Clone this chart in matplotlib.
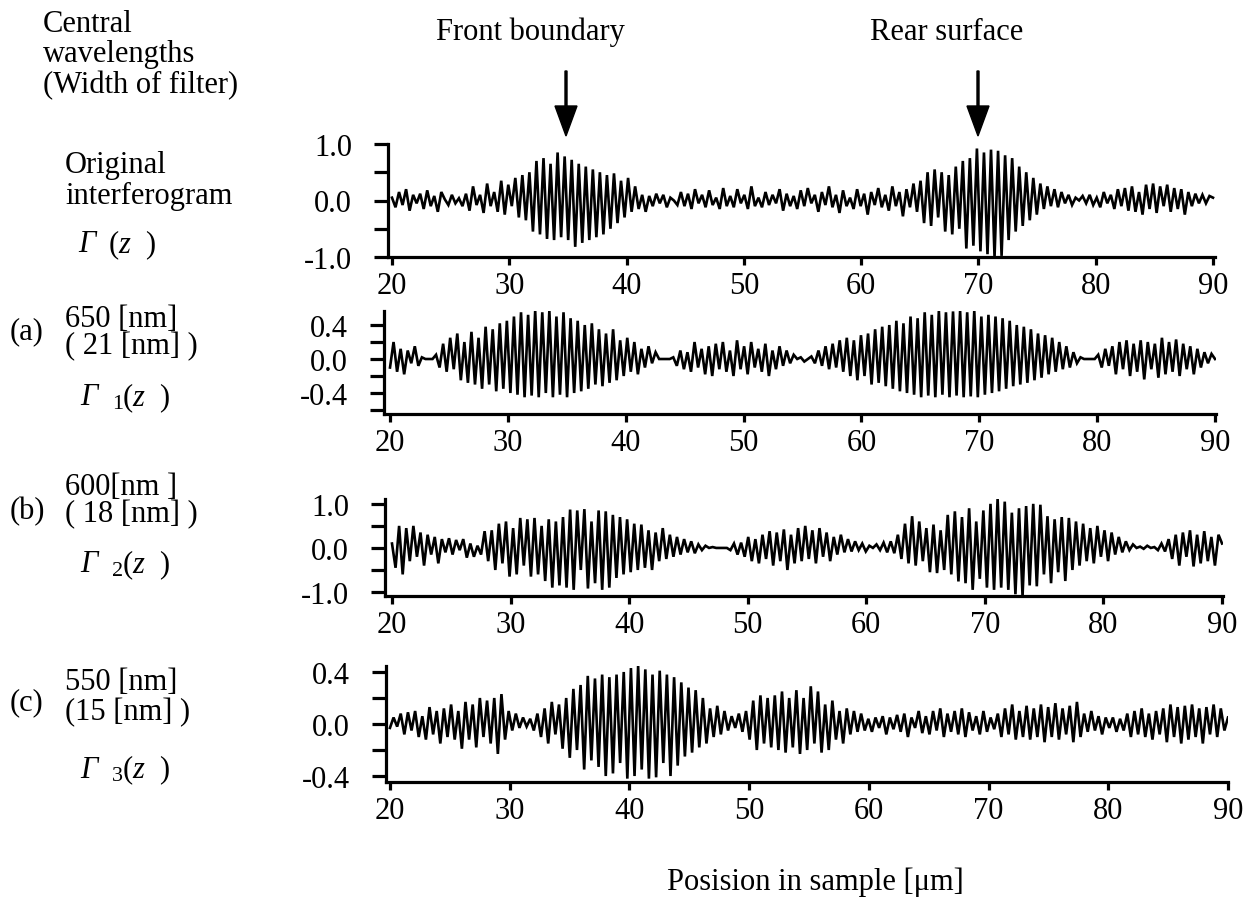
import numpy as np
import matplotlib
matplotlib.use("Agg")
import matplotlib.pyplot as plt

plt.rcParams["font.family"] = ["Liberation Serif", "DejaVu Serif"]
plt.rcParams["mathtext.fontset"] = "custom"
plt.rcParams["mathtext.rm"] = "Liberation Serif"
plt.rcParams["mathtext.it"] = "Liberation Serif:italic"

W, H = 1260, 904
FS = 22

x_ticks = [20, 30, 40, 50, 60, 70, 80, 90]

# original interferogram, sampled every ~0.3 um from 20 to 90 um
gamma0 = [
    0.05, -0.12, 0.15, -0.08, 0.2, -0.18, 0.1, -0.05, 0.12, -0.15,
    0.18, -0.1, 0.08, -0.2, 0.15, 0.02, -0.08, 0.1, -0.05, 0.04,
    -0.1, 0.12, -0.18, 0.25, -0.08, 0.1, -0.22, 0.3, -0.1, 0.15,
    -0.2, 0.35, -0.25, 0.28, -0.1, 0.4, -0.3, 0.45, -0.35, 0.5,
    -0.55, 0.7, -0.6, 0.75, -0.68, 0.65, -0.7, 0.85, -0.65, 0.78,
    -0.7, 0.72, -0.82, 0.65, -0.75, 0.6, -0.7, 0.55, -0.65, 0.5,
    -0.6, 0.45, -0.5, 0.48, -0.4, 0.35, -0.3, 0.4, -0.2, 0.25,
    -0.15, 0.1, -0.2, 0.08, -0.1, 0.12, -0.05, 0.1, -0.12, 0.05,
    0.0, -0.08, 0.15, -0.1, 0.12, -0.15, 0.2, -0.05, 0.1, -0.12,
    0.18, -0.08, 0.05, -0.15, 0.22, -0.1, 0.08, -0.12, 0.2, -0.05,
    0.1, -0.15, 0.25, -0.1, 0.05, -0.12, 0.15, -0.08, 0.1, -0.05,
    0.2, -0.18, 0.12, -0.1, 0.08, -0.15, 0.18, -0.1, 0.22, -0.05,
    0.1, -0.2, 0.15, -0.08, 0.25, -0.12, 0.1, -0.22, 0.18, -0.1,
    0.05, -0.15, 0.2, -0.1, 0.12, -0.25, 0.15, -0.08, 0.22, -0.12,
    0.1, -0.18, 0.25, -0.1, 0.15, -0.28, 0.2, -0.12, 0.3, -0.2,
    0.35, -0.4, 0.5, -0.45, 0.55, -0.3, 0.5, -0.55, 0.45, -0.6,
    0.6, -0.5, 0.7, -0.85, 0.75, -0.8, 0.92, -0.9, 0.85, -0.95,
    0.9, -1.0, 0.88, -0.98, 0.8, -0.7, 0.75, -0.55, 0.6, -0.45,
    0.5, -0.35, 0.4, -0.25, 0.3, -0.15, 0.25, -0.1, 0.2, -0.12,
    0.15, -0.05, 0.1, -0.08, 0.05, 0.0, 0.08, -0.05, 0.1, -0.08,
    0.05, -0.12, 0.15, -0.05, 0.1, -0.15, 0.2, -0.1, 0.22, -0.18,
    0.25, -0.2, 0.15, -0.25, 0.28, -0.15, 0.3, -0.22, 0.25, -0.1,
    0.28, -0.2, 0.22, -0.15, 0.2, -0.25, 0.15, -0.1, 0.12, -0.05,
    0.1, -0.05, 0.08, 0.05,
]

# (a) 650 nm filter
gamma1 = [
    -0.1, 0.2, -0.15, 0.12, -0.18, 0.1, -0.05, 0.15, -0.08, 0.02,
    0.0, 0.0, 0.0, 0.05, -0.1, 0.18, -0.15, 0.25, -0.12, 0.3,
    -0.25, 0.2, -0.28, 0.32, -0.3, 0.25, -0.35, 0.38, -0.3, 0.35,
    -0.38, 0.42, -0.35, 0.45, -0.4, 0.5, -0.42, 0.55, -0.45, 0.52,
    -0.43, 0.57, -0.45, 0.55, -0.4, 0.57, -0.45, 0.5, -0.42, 0.55,
    -0.45, 0.48, -0.4, 0.45, -0.38, 0.4, -0.35, 0.42, -0.3, 0.35,
    -0.32, 0.3, -0.28, 0.35, -0.25, 0.22, -0.2, 0.25, -0.15, 0.2,
    -0.18, 0.12, -0.1, 0.15, -0.05, 0.08, 0.0, 0.0, 0.0, 0.0,
    0.02, -0.08, 0.1, -0.12, 0.08, -0.15, 0.2, -0.1, 0.12, -0.18,
    0.15, -0.2, 0.18, -0.12, 0.2, -0.15, 0.1, -0.2, 0.22, -0.12,
    0.15, -0.18, 0.2, -0.1, 0.12, -0.15, 0.18, -0.2, 0.1, -0.12,
    0.15, -0.08, 0.1, -0.05, 0.05, 0.0, 0.02, -0.03, 0.0, 0.03,
    -0.05, 0.1, -0.08, 0.15, -0.12, 0.18, -0.1, 0.22, -0.15, 0.25,
    -0.2, 0.22, -0.25, 0.28, -0.2, 0.3, -0.3, 0.35, -0.28, 0.38,
    -0.32, 0.4, -0.35, 0.45, -0.38, 0.42, -0.4, 0.5, -0.42, 0.48,
    -0.45, 0.55, -0.43, 0.52, -0.45, 0.57, -0.42, 0.55, -0.45, 0.56,
    -0.43, 0.57, -0.45, 0.55, -0.44, 0.57, -0.45, 0.5, -0.42, 0.52,
    -0.4, 0.5, -0.38, 0.48, -0.35, 0.45, -0.32, 0.4, -0.3, 0.38,
    -0.28, 0.35, -0.25, 0.3, -0.22, 0.28, -0.18, 0.25, -0.15, 0.2,
    -0.12, 0.15, -0.1, 0.08, -0.05, 0.02, 0.0, 0.0, 0.0, 0.0,
    0.05, -0.1, 0.12, -0.08, 0.15, -0.18, 0.2, -0.12, 0.22, -0.2,
    0.18, -0.15, 0.22, -0.24, 0.2, -0.12, 0.18, -0.22, 0.25, -0.18,
    0.2, -0.15, 0.23, -0.2, 0.18, -0.12, 0.15, -0.18, 0.12, -0.1,
    0.08, -0.05, 0.06, 0.0,
]

# (b) 600 nm filter
gamma2 = [
    0.1, -0.45, 0.5, -0.6, 0.45, -0.3, 0.5, -0.2, 0.35, -0.4,
    0.3, -0.15, 0.25, -0.35, 0.2, -0.1, 0.22, -0.15, 0.18, -0.05,
    0.2, -0.22, 0.1, -0.2, 0.05, -0.15, 0.38, -0.3, 0.4, -0.5,
    0.55, -0.35, 0.6, -0.65, 0.45, -0.6, 0.68, -0.4, 0.65, -0.65,
    0.68, -0.6, 0.5, -0.75, 0.65, -0.9, 0.6, -0.85, 0.7, -0.9,
    0.87, -0.95, 0.85, -0.5, 0.88, -0.92, 0.6, -0.8, 0.85, -0.95,
    0.83, -0.9, 0.75, -0.68, 0.7, -0.6, 0.65, -0.55, 0.55, -0.5,
    0.53, -0.45, 0.4, -0.5, 0.35, -0.3, 0.45, -0.25, 0.3, -0.2,
    0.25, -0.15, 0.2, -0.1, 0.15, -0.12, 0.08, -0.05, 0.05, 0.0,
    0.02, 0.0, 0.0, 0.0, 0.0, -0.05, 0.1, -0.15, 0.12, -0.2,
    0.25, -0.3, 0.2, -0.35, 0.3, -0.25, 0.38, -0.4, 0.35, -0.3,
    0.42, -0.5, 0.3, -0.35, 0.45, -0.3, 0.5, -0.25, 0.4, -0.35,
    0.45, -0.2, 0.35, -0.3, 0.25, -0.15, 0.3, -0.1, 0.2, -0.08,
    0.15, -0.05, 0.1, -0.08, 0.05, 0.0, 0.08, -0.05, 0.12, -0.1,
    0.15, -0.12, 0.3, -0.25, 0.55, -0.35, 0.72, -0.4, 0.6, -0.3,
    0.45, -0.55, 0.53, -0.57, 0.4, -0.5, 0.75, -0.6, 0.83, -0.76,
    0.7, -0.8, 0.9, -0.95, 0.6, -0.7, 0.85, -0.9, 1.0, -0.95,
    1.12, -0.9, 1.05, -0.95, 0.8, -1.05, 0.9, -1.1, 0.95, -0.85,
    1.0, -0.87, 0.98, -0.6, 0.72, -0.8, 0.65, -0.55, 0.7, -0.75,
    0.68, -0.5, 0.6, -0.4, 0.55, -0.3, 0.45, -0.35, 0.5, -0.2,
    0.4, -0.3, 0.35, -0.15, 0.25, -0.1, 0.15, -0.05, 0.08, 0.0,
    0.03, -0.02, 0.05, 0.0, 0.02, -0.05, 0.1, -0.08, 0.2, -0.25,
    0.3, -0.4, 0.35, -0.2, 0.4, -0.42, 0.3, -0.35, 0.38, -0.3,
    0.25, -0.4, 0.3, 0.1,
]

# (c) 550 nm filter
gamma3 = [
    -0.03, 0.05, -0.02, 0.08, -0.08, 0.09, -0.05, 0.1, -0.1, 0.06,
    -0.12, 0.13, -0.08, 0.1, -0.15, 0.12, -0.1, 0.15, -0.12, 0.1,
    -0.19, 0.17, -0.12, 0.15, -0.18, 0.2, -0.1, 0.18, -0.15, 0.2,
    -0.23, 0.23, -0.12, 0.1, -0.05, 0.08, -0.03, 0.05, -0.02, 0.04,
    -0.05, 0.08, -0.1, 0.12, -0.15, 0.17, -0.08, 0.15, -0.19, 0.2,
    -0.26, 0.27, -0.2, 0.3, -0.35, 0.37, -0.28, 0.35, -0.33, 0.38,
    -0.4, 0.36, -0.38, 0.38, -0.3, 0.4, -0.42, 0.43, -0.4, 0.45,
    -0.35, 0.42, -0.42, 0.38, -0.41, 0.41, -0.3, 0.38, -0.4, 0.36,
    -0.32, 0.32, -0.25, 0.28, -0.22, 0.26, -0.18, 0.2, -0.15, 0.12,
    -0.1, 0.14, -0.08, 0.1, -0.05, 0.06, -0.03, 0.08, -0.06, 0.1,
    -0.12, 0.18, -0.2, 0.22, -0.15, 0.2, -0.18, 0.22, -0.2, 0.25,
    -0.22, 0.2, -0.18, 0.26, -0.23, 0.2, -0.2, 0.29, -0.15, 0.25,
    -0.22, 0.15, -0.2, 0.18, -0.12, 0.1, -0.15, 0.12, -0.08, 0.1,
    -0.06, 0.08, -0.05, 0.04, -0.06, 0.05, -0.03, 0.06, -0.08, 0.05,
    -0.04, 0.07, -0.06, 0.08, -0.1, 0.05, -0.03, 0.1, -0.07, 0.06,
    -0.08, 0.1, -0.05, 0.12, -0.1, 0.08, -0.06, 0.1, -0.08, 0.12,
    -0.1, 0.09, -0.05, 0.06, -0.08, 0.1, -0.06, 0.05, -0.04, 0.08,
    -0.1, 0.12, -0.08, 0.15, -0.12, 0.1, -0.1, 0.14, -0.12, 0.12,
    -0.1, 0.15, -0.14, 0.13, -0.1, 0.16, -0.12, 0.12, -0.08, 0.14,
    -0.14, 0.17, -0.1, 0.08, -0.06, 0.1, -0.05, 0.06, -0.08, 0.05,
    -0.03, 0.05, -0.06, 0.04, -0.05, 0.08, -0.1, 0.1, -0.08, 0.12,
    -0.1, 0.08, -0.12, 0.1, -0.08, 0.12, -0.14, 0.15, -0.1, 0.13,
    -0.15, 0.14, -0.12, 0.15, -0.1, 0.12, -0.15, 0.13, -0.08, 0.15,
    -0.1, 0.12, -0.05, 0.05,
]


def px(x, y):
    return x / W, 1 - y / H


def add_panel(fig, box, xlim, ylim, values, major, labels, minor):
    left, right, top, bottom = box
    ax = fig.add_axes([left / W, 1 - bottom / H, (right - left) / W, (bottom - top) / H])
    xs = np.linspace(20, 90, len(values))
    ax.plot(xs, values, color="black", lw=1.9, solid_joinstyle="miter")
    ax.set_xlim(*xlim)
    ax.set_ylim(*ylim)
    for side in ("top", "right"):
        ax.spines[side].set_visible(False)
    for side in ("left", "bottom"):
        ax.spines[side].set_linewidth(2.3)
    ax.set_xticks(x_ticks)
    ax.set_xticklabels([str(t) for t in x_ticks])
    ax.set_yticks(major)
    ax.set_yticklabels(labels)
    ax.set_yticks(minor, minor=True)
    ax.tick_params(axis="x", direction="out", length=6, width=2.3, pad=4, labelsize=FS)
    ax.tick_params(axis="y", which="major", direction="out", length=10, width=2.3, pad=16, labelsize=FS)
    ax.tick_params(axis="y", which="minor", direction="out", length=10, width=2.3)
    return ax


def gamma_label(fig, x, y, sub):
    # italic capital gamma, optional lowered index, then (z  )
    fig.text(*px(x, y), "Γ", fontsize=FS, style="italic", ha="left", va="center")
    if sub:
        fig.text(*px(x + 32, y + 7), sub, fontsize=16, ha="left", va="center")
        fig.text(*px(x + 42, y), r"($\mathit{z}$  )", fontsize=FS, ha="left", va="center")
    else:
        fig.text(*px(x + 30, y), r"($\mathit{z}$  )", fontsize=FS, ha="left", va="center")


def main():
    fig = plt.figure(figsize=(W / 100, H / 100), dpi=100)

    add_panel(fig, (388, 1215, 145, 258), (19.66, 90.17), (-1.0, 1.0), gamma0,
              [1.0, 0.0, -1.0], ["1.0", "0.0", "-1.0"], [0.5, -0.5])
    add_panel(fig, (384, 1216, 312, 415), (19.49, 90.08), (-0.647, 0.565), gamma1,
              [0.4, 0.0, -0.4], ["0.4", "0.0", "-0.4"], [0.2, -0.2, -0.6])
    add_panel(fig, (385, 1223, 500, 597), (19.41, 90.08), (-1.09, 1.11), gamma2,
              [1.0, 0.0, -1.0], ["1.0", "0.0", "-1.0"], [0.5, -0.5])
    add_panel(fig, (386, 1228, 667, 783), (19.67, 90.0), (-0.446, 0.446), gamma3,
              [0.4, 0.0, -0.4], ["0.4", "0.0", "-0.4"], [0.2, -0.2])

    # boundary markers
    for label, xc, xa in (("Front boundary", 530, 566), ("Rear surface", 947, 978)):
        fig.text(*px(xc, 32), label, fontsize=FS, ha="center", va="center")
        fig.patches.append(matplotlib.patches.FancyArrow(
            xa / W, 1 - 72 / H, 0, -(137 - 72) / H, width=2 / W, head_width=22 / W,
            head_length=30 / H, length_includes_head=True, color="black",
            transform=fig.transFigure, figure=fig))

    blocks = [
        (43, 55, "Central\nwavelengths\n(Width of filter)", 1.05),
        (65, 181, "Original\ninterferogram", 1.1),
        (65, 333, "650 [nm]\n( 21 [nm] )", 0.88),
        (65, 501, "600[nm ]\n( 18 [nm] )", 0.9),
        (65, 698, "550 [nm]\n(15 [nm] )", 1.05),
    ]
    for x, y, s, ls in blocks:
        fig.text(*px(x, y), s, fontsize=FS, ha="left", va="center", linespacing=ls)

    for x, y, s in ((10, 332, "(a)"), (10, 512, "(b)"), (10, 703, "(c)")):
        fig.text(*px(x, y), s, fontsize=FS, ha="left", va="center")

    gamma_label(fig, 78, 245, "")
    gamma_label(fig, 80, 398, "1")
    gamma_label(fig, 80, 565, "2")
    gamma_label(fig, 80, 770, "3")

    fig.text(*px(815, 882), "Posision in sample [μm]", fontsize=FS, ha="center", va="center")

    fig.savefig("out.png", dpi=100)
    plt.close(fig)


if __name__ == "__main__":
    main()
